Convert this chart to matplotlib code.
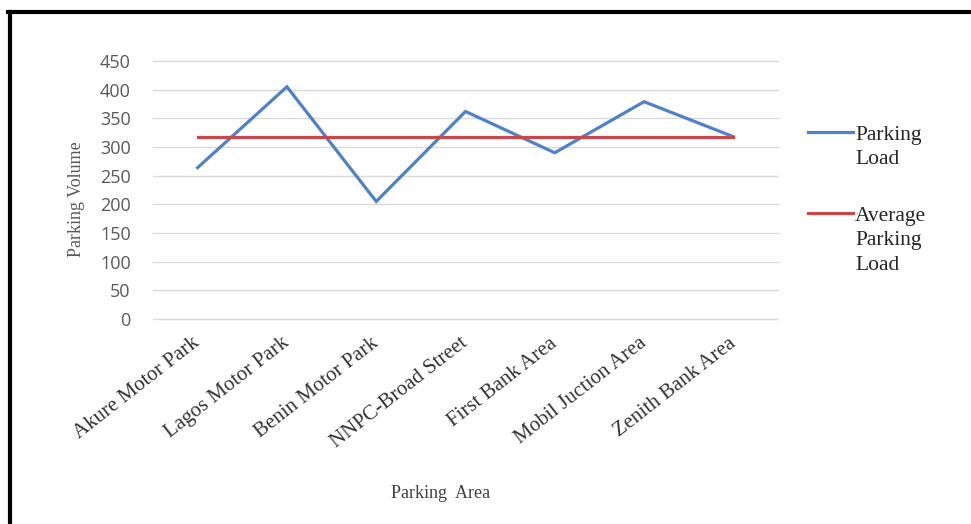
import matplotlib
matplotlib.use("Agg")
import matplotlib.pyplot as plt
from matplotlib.lines import Line2D
import numpy as np

# ── Data ─────────────────────────────────────────────────────────────────────
areas = ["Akure Motor Park", "Lagos Motor Park", "Benin Motor Park",
         "NNPC-Broad Street", "First Bank Area", "Mobil Juction Area",
         "Zenith Bank Area"]
parking_load = [264, 405, 205, 362, 290, 379, 318]
avg_load = [318, 318, 318, 318, 318, 318, 318]
y_ticks = [0, 50, 100, 150, 200, 250, 300, 350, 400, 450]

BLUE = "#4f81c9"
RED = "#c9474a"
SERIF = "Liberation Serif"

# ── Figure ───────────────────────────────────────────────────────────────────
fig = plt.figure(figsize=(9.71, 5.24), dpi=100)
fig.patch.set_facecolor("white")
ax = fig.add_axes([153 / 971, 1 - 319 / 524, (778 - 153) / 971, (319 - 61) / 524])

x = np.arange(len(areas))
ax.plot(x, parking_load, color=BLUE, linewidth=2.3, solid_joinstyle="miter")
ax.plot(x, avg_load, color=RED, linewidth=2.3)

ax.set_xlim(-0.5, len(areas) - 0.5)
ax.set_ylim(0, 450)
ax.set_yticks(y_ticks)
ax.set_yticklabels([str(v) for v in y_ticks], fontfamily="Open Sans",
                   fontsize=13, color="#595959")
ax.set_xticks(x)
ax.set_xticklabels(areas, rotation=38, ha="right", va="center",
                   rotation_mode="anchor", fontfamily=SERIF, fontsize=15,
                   color="#333333")
ax.tick_params(axis="both", length=0)
ax.tick_params(axis="y", pad=16)
ax.tick_params(axis="x", pad=16)

for spine in ax.spines.values():
    spine.set_visible(False)
ax.grid(axis="y", color="#d9d9d9", linewidth=1)
for gl in ax.get_ygridlines():
    gl.set_clip_on(False)
ax.set_axisbelow(True)

ax.set_ylabel("Parking Volume", fontfamily=SERIF, fontsize=13,
              color="#595959")
ax.yaxis.set_label_coords(-0.109, 0.465)
fig.text(441 / 971, 1 - 493 / 524, "Parking  Area", ha="center", va="center",
         fontfamily=SERIF, fontsize=13, color="#404040")

# ── Legend (first text line level with the key) ──────────────────────────────
legend_items = [("Parking\nLoad", BLUE, 132), ("Average\nParking\nLoad", RED, 213)]
for label, color, ypix in legend_items:
    yf = 1 - ypix / 524
    fig.add_artist(Line2D([808 / 971, 853 / 971], [yf, yf], color=color,
                          linewidth=2.3, transform=fig.transFigure))
    fig.text(855 / 971, yf + 6 / 524, label, ha="left", va="top",
             fontfamily=SERIF, fontsize=15.5, color="#262626", linespacing=1.38)

# ── Frame ────────────────────────────────────────────────────────────────────
top = 1 - 11.5 / 524
fig.add_artist(Line2D([8 / 971, 1], [top, top], color="black", linewidth=3,
                      transform=fig.transFigure))
fig.add_artist(Line2D([10 / 971, 10 / 971], [0, top], color="black",
                      linewidth=3, transform=fig.transFigure))

fig.savefig("out.png", dpi=100, facecolor="white")
